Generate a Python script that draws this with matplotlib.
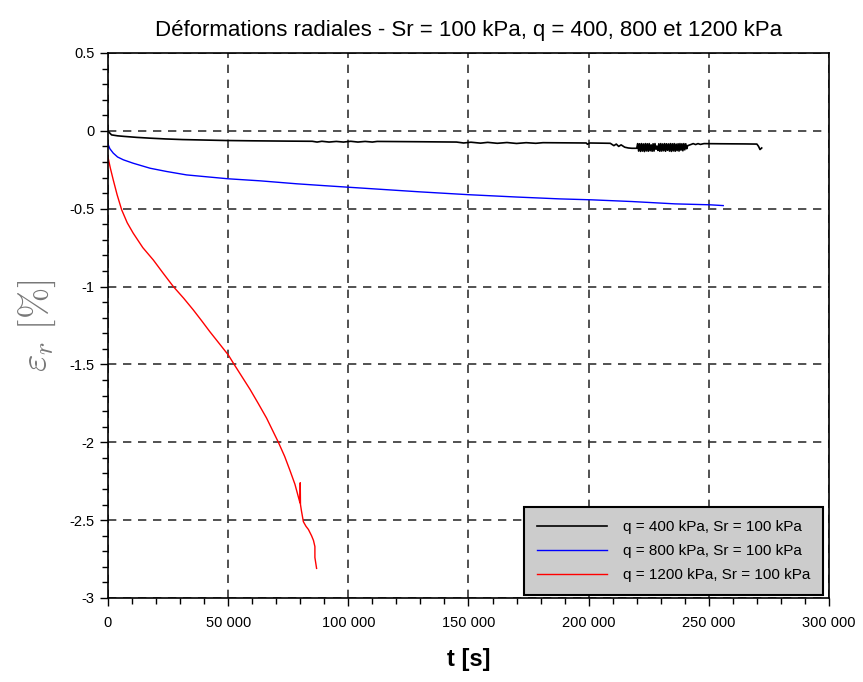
import matplotlib
matplotlib.use('Agg')
import matplotlib.pyplot as plt
from matplotlib.ticker import MultipleLocator, FuncFormatter

# données (t en s, deformation en %)
black_t = [0, 800, 1500, 4000, 7000, 12000, 17500, 24000, 31000, 40000, 49000, 60000, 75000,
           85000, 87000, 89000, 92000, 95000, 98000, 101000, 104000, 107000, 110000, 112000,
           130000, 145000, 148000, 151000, 155000, 158000, 162000, 166000, 170000, 174000,
           178000, 181000, 190000, 199000, 199500, 200500, 205000, 209000, 210500, 211500,
           212500, 213500, 215000, 216500, 218000, 220000,
           220400, 220800, 221200, 221600, 222000, 222400, 222800, 223200, 223600, 224000,
           224400, 224800, 225200, 225600, 226000, 226400, 226800, 227200, 227600, 228000,
           228400, 228800, 229200, 229600, 230000, 230400, 230800, 231200, 231600, 232000,
           232400, 232800, 233200, 233600, 234000, 234400, 234800, 235200, 235600, 236000,
           236400, 236800, 237200, 237600, 238000, 238400, 238800, 239200, 239600, 240000,
           240400, 240800, 241200,
           242500, 243500, 244500, 245500, 246500, 248000, 255000, 265000, 270000, 270700,
           271300, 272000]
black_y = [0, -0.015, -0.026, -0.032, -0.036, -0.042, -0.047, -0.052, -0.056, -0.059, -0.062,
           -0.064, -0.066, -0.067, -0.072, -0.067, -0.072, -0.068, -0.072, -0.067, -0.072,
           -0.068, -0.072, -0.068, -0.070, -0.072, -0.078, -0.073, -0.079, -0.074, -0.080,
           -0.075, -0.081, -0.076, -0.080, -0.076, -0.077, -0.078, -0.086, -0.078, -0.079,
           -0.080, -0.095, -0.085, -0.100, -0.090, -0.105, -0.110, -0.112, -0.112,
           -0.082, -0.130, -0.083, -0.132, -0.082, -0.130, -0.084, -0.133, -0.082, -0.129,
           -0.083, -0.131, -0.082, -0.128, -0.090, -0.131, -0.083, -0.130, -0.082, -0.118,
           -0.098, -0.126, -0.083, -0.131, -0.082, -0.130, -0.084, -0.128, -0.082, -0.131,
           -0.083, -0.125, -0.084, -0.130, -0.082, -0.132, -0.083, -0.129, -0.082, -0.131,
           -0.085, -0.127, -0.083, -0.130, -0.082, -0.124, -0.083, -0.128, -0.082, -0.122,
           -0.083, -0.115, -0.095,
           -0.088, -0.082, -0.088, -0.082, -0.087, -0.082, -0.083, -0.084, -0.085, -0.100,
           -0.120, -0.110]

blue_t = [0, 800, 2200, 4000, 6400, 10500, 17500, 24400, 32700, 41000, 50100, 63300, 78500,
          90000, 110000, 130000, 150000, 170000, 188000, 201300, 218000, 236000, 250500, 256000]
blue_y = [-0.085, -0.115, -0.143, -0.168, -0.186, -0.208, -0.24, -0.261, -0.283, -0.295,
          -0.308, -0.321, -0.34, -0.352, -0.372, -0.392, -0.41, -0.425, -0.437, -0.443,
          -0.454, -0.469, -0.475, -0.48]

red_t = [0, 300, 1000, 2200, 3800, 5700, 8000, 10500, 14500, 18900, 23000, 27200, 31500,
         35500, 39000, 42400, 46000, 50100, 52500, 55800, 59100, 62500, 66000, 70900, 73500,
         75700, 77800, 79200, 79900, 80000, 80100, 80500, 81300, 82400, 83400, 84700, 85500,
         86100, 86100, 86800]
red_y = [-0.17, -0.19, -0.24, -0.315, -0.41, -0.507, -0.59, -0.657, -0.75, -0.83, -0.915,
         -1.0, -1.075, -1.15, -1.22, -1.29, -1.36, -1.44, -1.5, -1.58, -1.66, -1.75, -1.845,
         -2.0, -2.09, -2.18, -2.27, -2.35, -2.39, -2.26, -2.40, -2.44, -2.51, -2.54, -2.56,
         -2.6, -2.63, -2.67, -2.74, -2.81]

labels = ['q = 400 kPa, Sr = 100 kPa', 'q = 800 kPa, Sr = 100 kPa', 'q = 1200 kPa, Sr = 100 kPa']
colors = ['black', 'blue', 'red']

plt.rcParams['font.family'] = ['Liberation Sans', 'DejaVu Sans']
plt.rcParams['mathtext.fontset'] = 'cm'

fig = plt.figure(figsize=(8.63, 6.82), dpi=100)
ax = fig.add_axes([0.1251, 0.1232, 0.8355, 0.7991])

ax.plot(black_t, black_y, color=colors[0], lw=1.2, label=labels[0])
ax.plot(blue_t, blue_y, color=colors[1], lw=1.0, label=labels[1])
ax.plot(red_t, red_y, color=colors[2], lw=1.0, label=labels[2])

ax.set_xlim(0, 300000)
ax.set_ylim(-3, 0.5)
ax.xaxis.set_major_locator(MultipleLocator(50000))
ax.xaxis.set_minor_locator(MultipleLocator(10000))
ax.yaxis.set_major_locator(MultipleLocator(0.5))
ax.yaxis.set_minor_locator(MultipleLocator(0.1))
ax.xaxis.set_major_formatter(FuncFormatter(lambda v, p: f"{int(round(v)):,}".replace(",", " ")))
ax.yaxis.set_major_formatter(FuncFormatter(lambda v, p: f"{v:g}"))

ax.tick_params(which='both', direction='out', colors='black', labelsize=10.5)
ax.tick_params(which='major', length=6, width=1)
ax.tick_params(which='minor', length=4, width=1)
ax.tick_params(axis='x', pad=7)
for s in ax.spines.values():
    s.set_linewidth(1.2)

ax.grid(True, which='major', linestyle=(0, (5, 4)), color='#333333', linewidth=1.2)

ax.set_title('Déformations radiales - Sr = 100 kPa, q = 400, 800 et 1200 kPa', fontsize=16, pad=12)
ax.set_xlabel('t [s]', fontsize=17, fontweight='bold', labelpad=13)
ax.set_ylabel(r'$\varepsilon_r\ [\%]$', fontsize=27, color='#777777', labelpad=8)

leg = ax.legend(loc='lower right', bbox_to_anchor=(0.9917, 0.0055), fancybox=False,
                edgecolor='black', facecolor='#cccccc', framealpha=1, fontsize=11,
                handlelength=4.6, handletextpad=1.0, borderpad=0.85, labelspacing=0.65,
                borderaxespad=0)
leg.get_frame().set_linewidth(1.5)

fig.savefig('out.png', dpi=100)
